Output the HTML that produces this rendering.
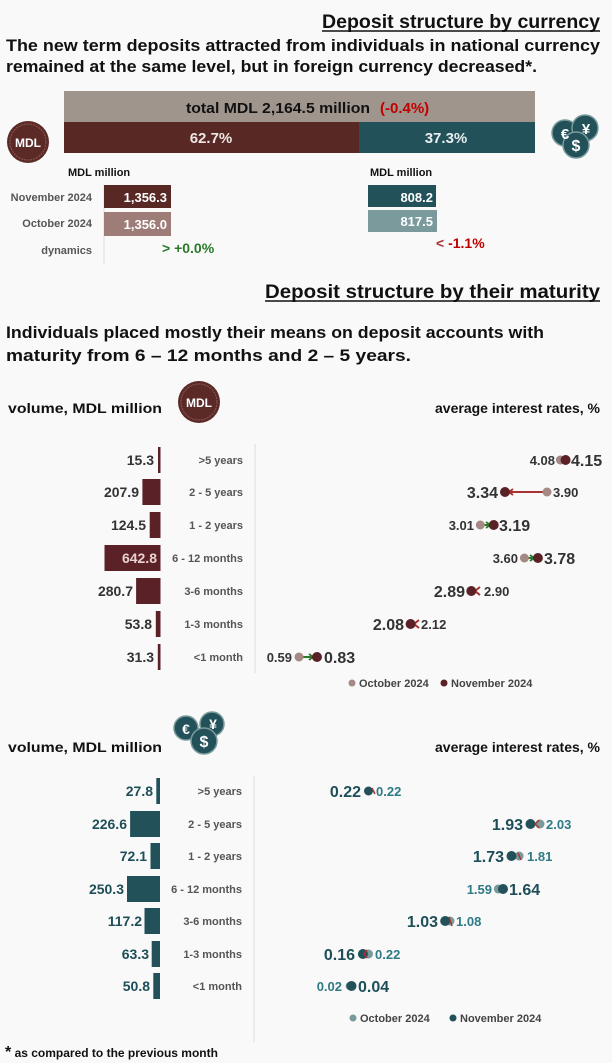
<!DOCTYPE html>
<html><head><meta charset="utf-8"><style>
html,body{margin:0;padding:0;background:#f9f9f9;}
svg{display:block;font-family:"Liberation Sans",sans-serif;}
.b{font-weight:bold}
</style></head><body>
<svg width="612" height="1063" viewBox="0 0 612 1063" xmlns="http://www.w3.org/2000/svg">
<defs>
<marker id="ag" markerUnits="userSpaceOnUse" markerWidth="8" markerHeight="8" refX="5" refY="4" orient="auto"><path d="M1,1 L5,4 L1,7" fill="none" stroke="#2a7a2a" stroke-width="1.8"/></marker>
<marker id="ar" markerUnits="userSpaceOnUse" markerWidth="8" markerHeight="8" refX="5" refY="4" orient="auto"><path d="M1,1 L5,4 L1,7" fill="none" stroke="#a83232" stroke-width="1.8"/></marker>
</defs>
<rect width="612" height="1063" fill="#f9f9f9"/>
<!-- Title 1 -->
<text x="322" y="28" textLength="278" lengthAdjust="spacingAndGlyphs" class="b" font-size="19" fill="#111">Deposit structure by currency</text>
<line x1="322" y1="31" x2="600" y2="31" stroke="#111" stroke-width="1.5"/>
<text x="6" y="51" textLength="594" lengthAdjust="spacingAndGlyphs" class="b" font-size="17" fill="#111">The new term deposits attracted from individuals in national currency</text>
<text x="6" y="72" textLength="531" lengthAdjust="spacingAndGlyphs" class="b" font-size="17" fill="#111">remained at the same level, but in foreign currency decreased*.</text>
<!-- total bar -->
<rect x="64" y="91" width="471" height="31" fill="#a0958d"/>
<text x="186" y="113" textLength="184" lengthAdjust="spacingAndGlyphs" class="b" font-size="15" fill="#111">total MDL 2,164.5 million</text>
<text x="380" y="113" class="b" font-size="15" fill="#c00000">(-0.4%)</text>
<rect x="64" y="122" width="295" height="31" fill="#572824"/>
<rect x="359" y="122" width="176" height="31" fill="#22515a"/>
<text x="211" y="143" text-anchor="middle" class="b" font-size="15" fill="#f0e6e4">62.7%</text>
<text x="446" y="143" text-anchor="middle" class="b" font-size="15" fill="#e8eeee">37.3%</text>
<!-- MDL icon -->
<circle cx="28" cy="142" r="21" fill="#5b2a27"/>
<circle cx="28" cy="142" r="18" fill="none" stroke="#8a5a55" stroke-width="1" stroke-dasharray="2,1"/>
<text x="28" y="147" text-anchor="middle" class="b" font-size="12" fill="#fff">MDL</text>
<!-- coins icon -->
<circle cx="565" cy="133" r="13" fill="#22515a" stroke="#7a9a9c" stroke-width="1.5"/>
<circle cx="585" cy="128" r="13" fill="#22515a" stroke="#7a9a9c" stroke-width="1.5"/>
<circle cx="576" cy="145" r="13" fill="#22515a" stroke="#7a9a9c" stroke-width="1.5"/>
<text x="565" y="139" text-anchor="middle" class="b" font-size="15" fill="#fff">€</text>
<text x="586" y="134" text-anchor="middle" class="b" font-size="15" fill="#fff">¥</text>
<text x="576" y="151" text-anchor="middle" class="b" font-size="16" fill="#fff">$</text>
<!-- MDL million -->
<text x="68" y="176" class="b" font-size="11" fill="#111">MDL million</text>
<text x="370" y="176" class="b" font-size="11" fill="#111">MDL million</text>
<line x1="104" y1="185" x2="104" y2="264" stroke="#ddd"/>
<text x="92" y="201" text-anchor="end" class="b" font-size="11" fill="#555">November 2024</text>
<text x="92" y="227" text-anchor="end" class="b" font-size="11" fill="#555">October 2024</text>
<text x="92" y="254" text-anchor="end" class="b" font-size="11" fill="#555">dynamics</text>
<rect x="104" y="185" width="67" height="23" fill="#572824"/>
<rect x="104" y="212" width="67" height="24" fill="#9e7c77"/>
<text x="167" y="202" text-anchor="end" class="b" font-size="13" fill="#fff">1,356.3</text>
<text x="167" y="229" text-anchor="end" class="b" font-size="13" fill="#fff">1,356.0</text>
<text x="162" y="253" class="b" font-size="14" fill="#2a7a2a">&gt; +0.0%</text>
<rect x="368" y="185" width="68" height="22" fill="#22515a"/>
<rect x="368" y="210" width="69" height="22" fill="#7a9a9c"/>
<text x="433" y="202" text-anchor="end" class="b" font-size="13" fill="#fff">808.2</text>
<text x="433" y="226" text-anchor="end" class="b" font-size="13" fill="#fff">817.5</text>
<text x="436" y="248" class="b" font-size="14" fill="#c00000"><tspan fill="#a83232">&lt;</tspan> -1.1%</text>
<!-- Title 2 -->
<text x="265" y="298" textLength="335" lengthAdjust="spacingAndGlyphs" class="b" font-size="19" fill="#111">Deposit structure by their maturity</text>
<line x1="265" y1="301" x2="600" y2="301" stroke="#111" stroke-width="1.5"/>
<text x="6" y="338" textLength="538" lengthAdjust="spacingAndGlyphs" class="b" font-size="17" fill="#111">Individuals placed mostly their means on deposit accounts with</text>
<text x="6" y="361" textLength="405" lengthAdjust="spacingAndGlyphs" class="b" font-size="17" fill="#111">maturity from 6 – 12 months and 2 – 5 years.</text>
<text x="8" y="413" textLength="154" lengthAdjust="spacingAndGlyphs" class="b" font-size="14" fill="#111">volume, MDL million</text>
<circle cx="199" cy="402" r="21" fill="#5b2a27"/>
<circle cx="199" cy="402" r="18" fill="none" stroke="#8a5a55" stroke-width="1" stroke-dasharray="2,1"/>
<text x="199" y="407" text-anchor="middle" class="b" font-size="12" fill="#fff">MDL</text>
<text x="600" y="413" text-anchor="end" class="b" font-size="14" fill="#111">average interest rates, %</text>
<line x1="255" y1="444" x2="255" y2="673" stroke="#ddd"/>
<g font-size="11" class="b" fill="#555" text-anchor="end">
<text x="243" y="464">&gt;5 years</text><text x="243" y="496">2 - 5 years</text><text x="243" y="529">1 - 2 years</text><text x="243" y="562">6 - 12 months</text><text x="243" y="595">3-6 months</text><text x="243" y="628">1-3 months</text><text x="243" y="661">&lt;1 month</text>
</g>
<g fill="#5a2127">
<rect x="158" y="447" width="2.5" height="26"/><rect x="142.4" y="479" width="18.1" height="26"/><rect x="149.7" y="512" width="10.8" height="26"/><rect x="104.5" y="545" width="56" height="26"/><rect x="136.1" y="578" width="24.4" height="26"/><rect x="155.8" y="611" width="4.7" height="26"/><rect x="157.8" y="644" width="2.7" height="26"/>
</g>
<g font-size="14" class="b" fill="#333" text-anchor="end">
<text x="154" y="465">15.3</text><text x="139" y="497">207.9</text><text x="146" y="530">124.5</text><text x="157" y="563" fill="#ead2d2">642.8</text><text x="133" y="596">280.7</text><text x="152" y="629">53.8</text><text x="154" y="662">31.3</text>
</g>
<!-- chart1 rates -->
<g>
<line x1="560.4" y1="460" x2="564" y2="460" stroke="#2a7a2a" stroke-width="2" marker-end="url(#ag)"/>
<circle cx="560.4" cy="460" r="4.5" fill="#a48985"/><circle cx="565.6" cy="460" r="5" fill="#5a2127"/>
<text x="555" y="465" text-anchor="end" class="b" font-size="13" fill="#333">4.08</text><text x="571" y="466" class="b" font-size="16" fill="#333">4.15</text>
<line x1="547" y1="492" x2="509" y2="492" stroke="#a83232" stroke-width="2" marker-end="url(#ar)"/>
<circle cx="547" cy="492" r="4.5" fill="#a48985"/><circle cx="505" cy="492" r="5" fill="#5a2127"/>
<text x="553" y="497" class="b" font-size="13" fill="#333">3.90</text><text x="498" y="498" text-anchor="end" class="b" font-size="16" fill="#333">3.34</text>
<line x1="480.3" y1="525" x2="490" y2="525" stroke="#2a7a2a" stroke-width="2" marker-end="url(#ag)"/>
<circle cx="480.3" cy="525" r="4.5" fill="#a48985"/><circle cx="493.7" cy="525" r="5" fill="#5a2127"/>
<text x="474" y="530" text-anchor="end" class="b" font-size="13" fill="#333">3.01</text><text x="499" y="531" class="b" font-size="16" fill="#333">3.19</text>
<line x1="524.4" y1="558" x2="534" y2="558" stroke="#2a7a2a" stroke-width="2" marker-end="url(#ag)"/>
<circle cx="524.4" cy="558" r="4.5" fill="#a48985"/><circle cx="537.9" cy="558" r="5" fill="#5a2127"/>
<text x="518" y="563" text-anchor="end" class="b" font-size="13" fill="#333">3.60</text><text x="544" y="564" class="b" font-size="16" fill="#333">3.78</text>
<path d="M480,587 L475,591 L480,595" fill="none" stroke="#a83232" stroke-width="2"/>
<circle cx="471.3" cy="591" r="5" fill="#5a2127"/>
<text x="484" y="596" class="b" font-size="13" fill="#333">2.90</text><text x="465" y="597" text-anchor="end" class="b" font-size="16" fill="#333">2.89</text>
<path d="M419,620 L414,624 L419,628" fill="none" stroke="#a83232" stroke-width="2"/>
<circle cx="410.6" cy="624" r="5" fill="#5a2127"/>
<text x="421" y="629" class="b" font-size="13" fill="#333">2.12</text><text x="404" y="630" text-anchor="end" class="b" font-size="16" fill="#333">2.08</text>
<line x1="299" y1="657" x2="313" y2="657" stroke="#2a7a2a" stroke-width="2" marker-end="url(#ag)"/>
<circle cx="299" cy="657" r="4.5" fill="#a48985"/><circle cx="317" cy="657" r="5" fill="#5a2127"/>
<text x="292" y="662" text-anchor="end" class="b" font-size="13" fill="#333">0.59</text><text x="324" y="663" class="b" font-size="16" fill="#333">0.83</text>
</g>
<circle cx="352" cy="683" r="3.5" fill="#a48985"/><text x="359" y="687" class="b" font-size="11" fill="#444">October 2024</text>
<circle cx="444" cy="683" r="3.5" fill="#5a2127"/><text x="451" y="687" class="b" font-size="11" fill="#444">November 2024</text>
<!-- section 2 -->
<text x="8" y="752" textLength="154" lengthAdjust="spacingAndGlyphs" class="b" font-size="14" fill="#111">volume, MDL million</text>
<circle cx="186" cy="728" r="12" fill="#22515a" stroke="#7a9a9c" stroke-width="1.5"/>
<circle cx="212" cy="724" r="12" fill="#22515a" stroke="#7a9a9c" stroke-width="1.5"/>
<circle cx="204" cy="741" r="13" fill="#22515a" stroke="#7a9a9c" stroke-width="1.5"/>
<text x="186" y="734" text-anchor="middle" class="b" font-size="14" fill="#fff">€</text>
<text x="213" y="729" text-anchor="middle" class="b" font-size="14" fill="#fff">¥</text>
<text x="204" y="747" text-anchor="middle" class="b" font-size="16" fill="#fff">$</text>
<text x="600" y="752" text-anchor="end" class="b" font-size="14" fill="#111">average interest rates, %</text>
<line x1="254" y1="776" x2="254" y2="1042" stroke="#ddd"/>
<g font-size="11" class="b" fill="#555" text-anchor="end">
<text x="242" y="795">&gt;5 years</text><text x="242" y="828">2 - 5 years</text><text x="242" y="860">1 - 2 years</text><text x="242" y="893">6 - 12 months</text><text x="242" y="925">3-6 months</text><text x="242" y="958">1-3 months</text><text x="242" y="990">&lt;1 month</text>
</g>
<g fill="#22515a">
<rect x="156.3" y="778" width="3.7" height="26"/><rect x="130.1" y="811" width="29.9" height="26"/><rect x="150.5" y="843" width="9.5" height="26"/><rect x="127" y="876" width="33" height="26"/><rect x="144.5" y="908" width="15.5" height="26"/><rect x="151.7" y="941" width="8.3" height="26"/><rect x="153.3" y="973" width="6.7" height="26"/>
</g>
<g font-size="14" class="b" fill="#1e4e58" text-anchor="end">
<text x="153" y="796">27.8</text><text x="127" y="829">226.6</text><text x="147" y="861">72.1</text><text x="124" y="894">250.3</text><text x="142" y="926">117.2</text><text x="149" y="959">63.3</text><text x="150" y="991">50.8</text>
</g>
<g>
<circle cx="368.5" cy="791" r="4.5" fill="#22515a"/>
<path d="M372,788 L375,794" stroke="#a83232" stroke-width="1.5"/>
<text x="376" y="796" class="b" font-size="13" fill="#2e7a85">0.22</text><text x="361" y="797" text-anchor="end" class="b" font-size="16" fill="#1e4e58">0.22</text>
<circle cx="540" cy="824" r="4.5" fill="#7a9a9c"/><circle cx="530.5" cy="824" r="5" fill="#22515a"/>
<path d="M539,820 L535,824 L539,828" fill="none" stroke="#a83232" stroke-width="1.5"/>
<text x="546" y="829" class="b" font-size="13" fill="#2e7a85">2.03</text><text x="523" y="830" text-anchor="end" class="b" font-size="16" fill="#1e4e58">1.93</text>
<circle cx="519.1" cy="856" r="4.5" fill="#7a9a9c"/><circle cx="511.5" cy="856" r="5" fill="#22515a"/>
<path d="M518,853 L521,860" stroke="#a83232" stroke-width="1.5"/>
<text x="527" y="861" class="b" font-size="13" fill="#2e7a85">1.81</text><text x="504" y="862" text-anchor="end" class="b" font-size="16" fill="#1e4e58">1.73</text>
<circle cx="498.3" cy="889" r="4.5" fill="#7a9a9c"/><circle cx="503" cy="889" r="5" fill="#22515a"/>
<text x="492" y="894" text-anchor="end" class="b" font-size="13" fill="#2e7a85">1.59</text><text x="509" y="895" class="b" font-size="16" fill="#1e4e58">1.64</text>
<circle cx="450" cy="921" r="4.5" fill="#7a9a9c"/><circle cx="445.2" cy="921" r="5" fill="#22515a"/>
<path d="M449,917 L452,926" stroke="#a83232" stroke-width="1.5"/>
<text x="456" y="926" class="b" font-size="13" fill="#2e7a85">1.08</text><text x="438" y="927" text-anchor="end" class="b" font-size="16" fill="#1e4e58">1.03</text>
<circle cx="368.5" cy="954" r="4.5" fill="#7a9a9c"/><circle cx="362.9" cy="954" r="5" fill="#22515a"/>
<path d="M367,950 L364,954 L367,958" fill="none" stroke="#a83232" stroke-width="1.5"/>
<text x="375" y="959" class="b" font-size="13" fill="#2e7a85">0.22</text><text x="355" y="960" text-anchor="end" class="b" font-size="16" fill="#1e4e58">0.16</text>
<circle cx="349.6" cy="986" r="4" fill="#7a9a9c"/><circle cx="351.5" cy="986" r="5" fill="#22515a"/>
<text x="342" y="991" text-anchor="end" class="b" font-size="13" fill="#2e7a85">0.02</text><text x="358" y="992" class="b" font-size="16" fill="#1e4e58">0.04</text>
</g>
<circle cx="353" cy="1018" r="3.5" fill="#7a9a9c"/><text x="360" y="1022" class="b" font-size="11" fill="#444">October 2024</text>
<circle cx="453" cy="1018" r="3.5" fill="#22515a"/><text x="460" y="1022" class="b" font-size="11" fill="#444">November 2024</text>
<text x="5" y="1057" class="b" font-size="12" fill="#111"><tspan font-size="16">*</tspan> as compared to the previous month</text>
</svg>
</body></html>
